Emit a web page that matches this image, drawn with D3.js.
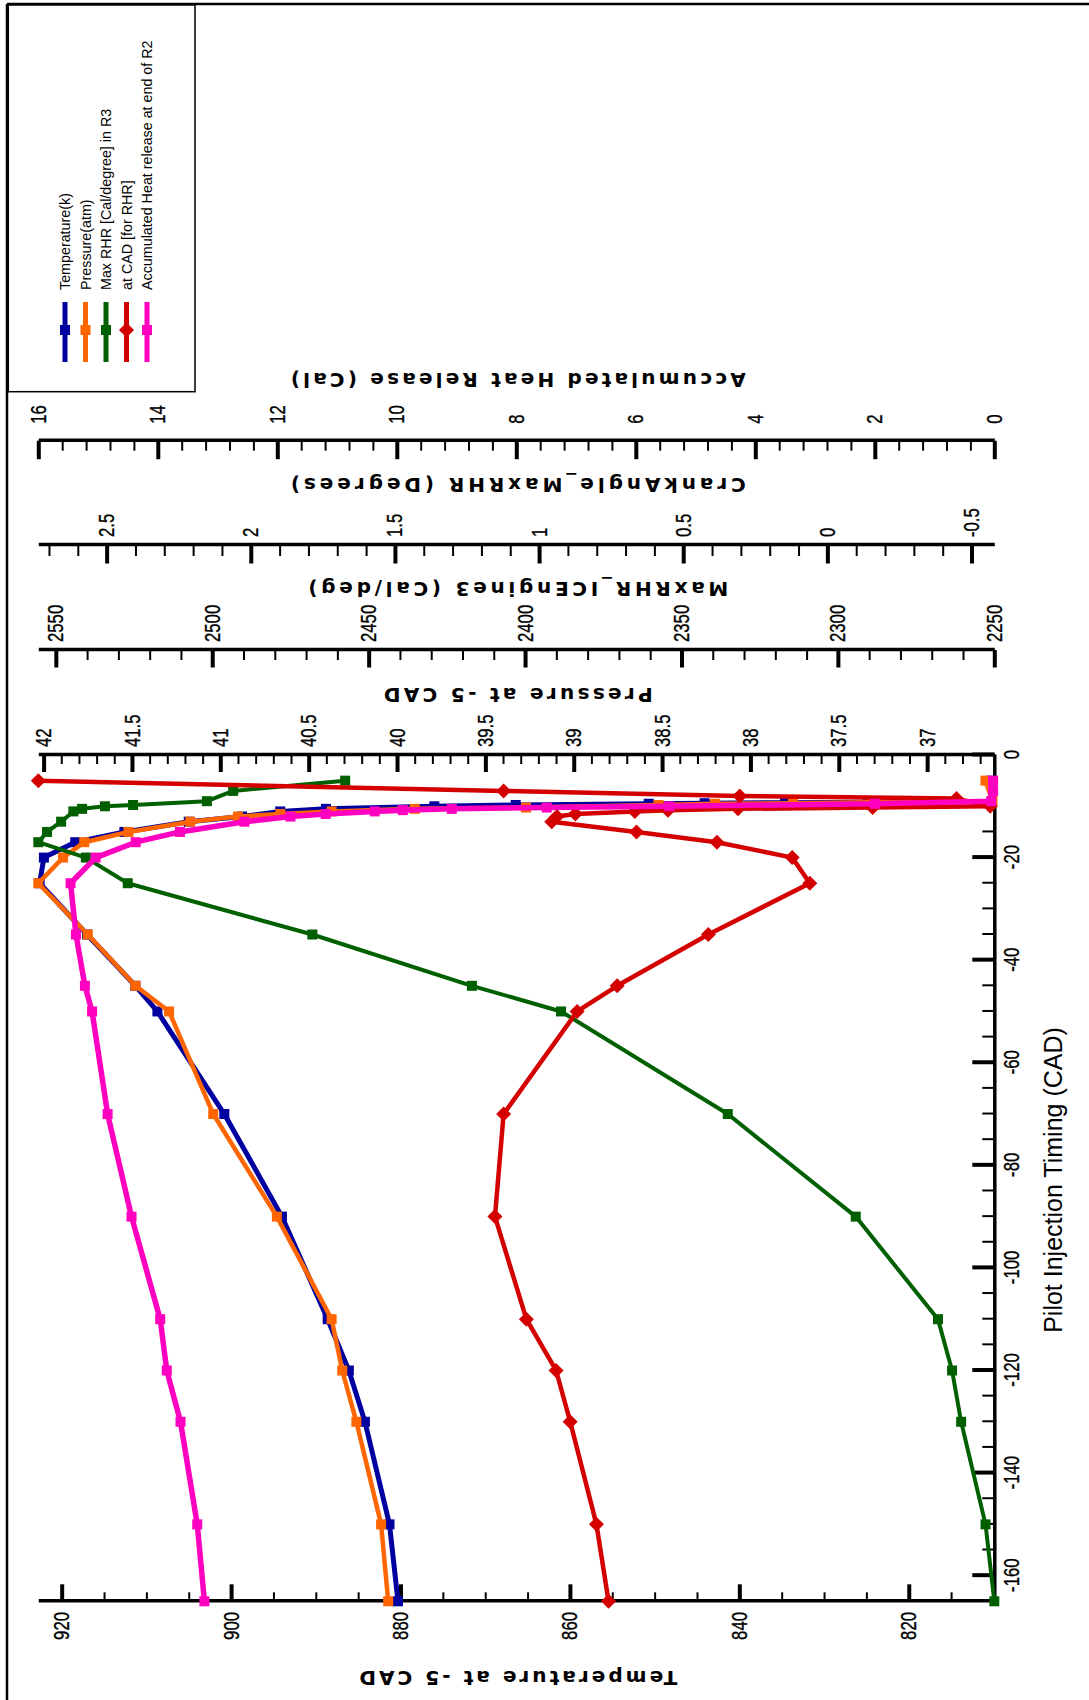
<!DOCTYPE html>
<html>
<head>
<meta charset="utf-8">
<script src="https://cdn.jsdelivr.net/npm/d3@7"></script>
<style>
  html, body { margin: 0; padding: 0; background: #fff; }
  svg { display: block; }
</style>
</head>
<body>
<svg id="chart" width="1089" height="1700"></svg>
<script>
// ---- data: pilot injection timing (CAD) and the five responses ----
const tempCAD = [-165,-150,-130,-120,-110,-90,-70,-50,-45,-35,-25,-20,-17,-15,-13,-12,-11,-10.5,-10,-9.75,-9.5,-9.4,-9.3,-9.2,-9,-5];
const temperature = [880.3,881.3,884.2,886.1,888.6,894.0,900.8,908.7,911.3,917.0,922.6,922.1,918.4,912.6,905.0,898.7,894.2,888.8,876.0,866.4,850.7,844.1,834.6,824.8,810.2,810.3];

const presCAD = [-165,-150,-130,-120,-110,-90,-70,-50,-45,-35,-25,-20,-17,-15,-13,-12,-11.5,-11,-10.5,-10.25,-9.75,-9.5,-9.4,-9.2,-9,-5];
const pressure = [40.05,40.09,40.23,40.31,40.37,40.68,41.04,41.29,41.48,41.75,42.03,41.89,41.77,41.52,41.17,40.90,40.66,40.37,39.90,39.27,38.52,38.20,37.76,37.32,36.63,36.67];

const rhrCAD = [-165,-150,-130,-120,-110,-90,-70,-50,-45,-35,-25,-20,-17,-15,-13,-11,-10.5,-10,-9.75,-9,-7,-5];
const maxRHR = [2250,2252.8,2260.6,2263.5,2268,2294.3,2335.2,2388.5,2417,2468,2527,2540.4,2555.6,2552.8,2548.3,2544.4,2541.6,2534.3,2525.3,2501.7,2493.3,2457.5];

const angleCAD = [-165,-150,-130,-120,-110,-90,-70,-50,-45,-35,-25,-20,-17,-15,-13,-12,-11.5,-11,-10.75,-10.5,-10.25,-10,-8.5,-8,-7,-5];
const crankAngle = [0.759,0.801,0.892,0.941,1.044,1.153,1.123,0.868,0.729,0.413,0.061,0.122,0.383,0.662,0.956,0.938,0.874,0.668,0.553,0.310,-0.157,-0.565,-0.448,0.304,1.123,2.737];

const heatCAD = [-165,-150,-130,-120,-110,-90,-70,-50,-45,-35,-25,-20,-17,-15,-13,-12,-11.5,-11,-10.75,-10.5,-10.25,-10,-9.5,-9,-7,-5];
const heatRelease = [13.22,13.34,13.62,13.85,13.96,14.44,14.84,15.10,15.22,15.37,15.46,15.04,14.37,13.63,12.55,11.78,11.19,10.37,9.90,9.08,7.49,5.44,2.00,0.05,0.02,0.02];

// ---- tick labels ----
const cadTicks = [-160,-140,-120,-100,-80,-60,-40,-20,0];
const tempTicks = [820,840,860,880,900,920];
const pressureTicks = [37,37.5,38,38.5,39,39.5,40,40.5,41,41.5,42];
const rhrTicks = [2250,2300,2350,2400,2450,2500,2550];
const angleTicks = [-0.5,0,0.5,1,1.5,2,2.5];
const heatTicks = [0,2,4,6,8,10,12,14,16];

const legendLabels = ["Temperature(k)","Pressure(atm)","Max RHR [Cal/degree] in R3","at CAD [for RHR]","Accumulated Heat release at end of R2"];
const seriesColors = ["#0000a0","#ff6600","#006000","#d40000","#ff00c0"];

// ---- layout (drawn landscape, then turned a quarter turn) ----
const W0 = 1700, H0 = 1089;
const plot = {left: 98.7, right: 945, top: 38.3, bottom: 994.3};
const tickFont = "'Liberation Sans',Arial,sans-serif";
const titleFont = "'DejaVu Sans',Verdana,sans-serif";

const svg = d3.select("#chart");
svg.append("rect").attr("width",1089).attr("height",1700).attr("fill","#fff");
const root = svg.append("g").attr("transform", `translate(0,${W0}) rotate(-90)`);

// ---- scales ----
const x  = d3.scaleLinear().domain([-165, 0]).range([plot.left, plot.right]);
const yT = d3.scaleLinear().domain([809.9, 922.76]).range([plot.bottom, plot.top]);
const yP = d3.scaleLinear().domain([36.62, 42.03]).range([plot.bottom, plot.top]);
const yM = d3.scaleLinear().domain([2250, 2555.6]).range([plot.bottom, plot.top]);
const yC = d3.scaleLinear().domain([-0.579, 2.737]).range([plot.bottom, plot.top]);
const yA = d3.scaleLinear().domain([0, 16]).range([plot.bottom, plot.top]);

// ---- outer frame ----
root.append("line").attr("x1",0).attr("x2",1696).attr("y1",7).attr("y2",7)
  .attr("stroke","#000").attr("stroke-width",2.5);
root.append("line").attr("x1",1696).attr("x2",1696).attr("y1",7).attr("y2",H0)
  .attr("stroke","#000").attr("stroke-width",2.5);

// condensed tick numerals: squeeze each label along its reading direction
function condense(sel, factor) {
  sel.each(function() {
    const len = this.getComputedTextLength();
    if (len > 0) d3.select(this).attr("textLength", len * factor).attr("lengthAdjust", "spacingAndGlyphs");
  });
}

// ---- axis helper ----
function drawAxis(maker, scale, pos, majors, minors, majorLen, minorLen, pad, fmt) {
  const g = root.append("g").attr("transform", pos);
  const minorG = g.append("g").call(maker(scale).tickValues(minors).tickSize(-minorLen)
    .tickSizeOuter(0).tickFormat(""));
  minorG.select(".domain").remove();
  minorG.selectAll(".tick line").attr("stroke","#000").attr("stroke-width",2);
  const majorG = g.append("g").call(maker(scale).tickValues(majors).tickSize(-majorLen)
    .tickSizeOuter(0).tickPadding(pad).tickFormat(fmt || (d => String(d))));
  majorG.select(".domain").attr("stroke","#000").attr("stroke-width",3.5);
  majorG.selectAll(".tick line").attr("stroke","#000").attr("stroke-width",4);
  const labels = majorG.selectAll(".tick text").attr("fill","#000")
    .attr("stroke","#000").attr("stroke-width",0.35)
    .style("font-family", tickFont).style("font-size","22px");
  condense(labels, 0.76);
  return g;
}

const cadMinor = d3.range(-165, 1, 5).filter(v => v % 20 !== 0);
const tempMinor = d3.range(810, 923, 5).filter(v => v % 20 !== 0);
const presMinor = d3.range(367, 421).filter(v => v % 5 !== 0).map(v => v / 10);
const rhrMinor = d3.range(2250, 2556, 10).filter(v => v % 50 !== 0);
const angMinor = d3.range(-5, 28).filter(v => v % 5 !== 0).map(v => v / 10);
const heatMinor = d3.range(0, 41).filter(v => v % 5 !== 0).map(v => +(v * 0.4).toFixed(1));

drawAxis(d3.axisBottom, x, `translate(0,${plot.bottom})`, cadTicks, cadMinor, 22, 12, 9.5);
drawAxis(d3.axisLeft, yT, `translate(${plot.left},0)`, tempTicks, tempMinor, 17, 9, 10.7);
drawAxis(d3.axisRight, yP, `translate(${plot.right},0)`, pressureTicks, presMinor, 17, 9, 8);
drawAxis(d3.axisRight, yM, `translate(1050,0)`, rhrTicks, rhrMinor, 17.5, 10, 8);
drawAxis(d3.axisRight, yC, `translate(1155,0)`, angleTicks, angMinor, 18.5, 11, 8);
drawAxis(d3.axisRight, yA, `translate(1259.3,0)`, heatTicks, heatMinor, 18.5, 10, 17);

// ---- axis titles ----
const midY = (plot.top + plot.bottom) / 2;
function sideTitle(text, cx, len) {
  root.append("text")
    .attr("transform", `translate(${cx},${midY + 2}) rotate(-90)`)
    .attr("text-anchor","middle").attr("dominant-baseline","central")
    .attr("textLength", len).attr("lengthAdjust","spacing")
    .style("font-family", titleFont).style("font-weight","bold").style("font-size","20px")
    .attr("fill","#000").text(text);
}
sideTitle("Temperature at -5 CAD", 22.5, 318);
sideTitle("Pressure at -5 CAD", 1005, 269);
sideTitle("MaxRHR_ICEngine3 (Cal/deg)", 1111, 420);
sideTitle("CrankAngle_MaxRHR (Degrees)", 1215, 455);
sideTitle("Accumulated Heat Release (Cal)", 1320, 455);

root.append("text")
  .attr("x", 520).attr("y", 1062)
  .attr("text-anchor","middle")
  .style("font-family","'Liberation Sans',Arial,sans-serif").style("font-size","25px")
  .attr("fill","#000").text("Pilot Injection Timing (CAD)");

// ---- series ----
const series = [
  {xs: tempCAD,  ys: temperature, y: yT, color: seriesColors[0], width: 5,   marker: "square"},
  {xs: presCAD,  ys: pressure,    y: yP, color: seriesColors[1], width: 4.5, marker: "square"},
  {xs: rhrCAD,   ys: maxRHR,      y: yM, color: seriesColors[2], width: 4,   marker: "square"},
  {xs: angleCAD, ys: crankAngle,  y: yC, color: seriesColors[3], width: 4.5, marker: "diamond"},
  {xs: heatCAD,  ys: heatRelease, y: yA, color: seriesColors[4], width: 5.5, marker: "square"}
];
const drawOrder = [0, 1, 2, 3, 4];

function addMarker(g, cx, cy, kind, color) {
  if (kind === "diamond") {
    const r = 7.5;
    g.append("path").attr("d", `M${cx},${cy - r}L${cx + r},${cy}L${cx},${cy + r}L${cx - r},${cy}Z`)
      .attr("fill", color);
  } else {
    const s = 10;
    g.append("rect").attr("x", cx - s / 2).attr("y", cy - s / 2).attr("width", s).attr("height", s)
      .attr("fill", color);
  }
}

drawOrder.forEach(i => {
  const s = series[i];
  const pts = s.xs.map((c, k) => [c, s.ys[k]]);
  const g = root.append("g");
  g.append("path").datum(pts)
    .attr("d", d3.line().x(d => x(d[0])).y(d => s.y(d[1])))
    .attr("fill","none").attr("stroke", s.color).attr("stroke-width", s.width)
    .attr("stroke-linejoin","round");
  pts.forEach(d => addMarker(g, x(d[0]), s.y(d[1]), s.marker, s.color));
});

// ---- legend ----
const legend = root.append("g");
legend.append("rect").attr("x", 1308.3).attr("y", 8.3).attr("width", 1695 - 1308.3).attr("height", 195 - 8.3)
  .attr("fill","#fff").attr("stroke","#000").attr("stroke-width",1.5);
legendLabels.forEach((label, i) => {
  const yy = 65 + i * 20.5;
  const s = series[i];
  legend.append("line").attr("x1", 1338).attr("x2", 1398).attr("y1", yy).attr("y2", yy)
    .attr("stroke", s.color).attr("stroke-width", 5);
  addMarker(legend, 1370, yy, s.marker, s.color);
  legend.append("text").attr("x", 1410).attr("y", yy).attr("dominant-baseline","central")
    .style("font-family","'Liberation Sans',Arial,sans-serif").style("font-size","14.3px")
    .attr("fill","#000").text(label);
});
</script>
</body>
</html>
